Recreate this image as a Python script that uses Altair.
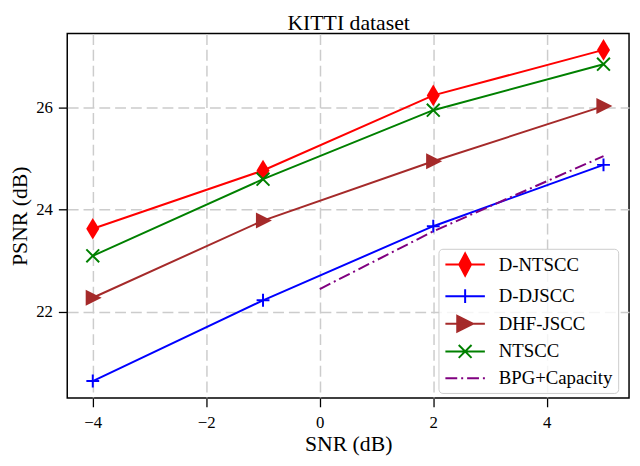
import altair as alt
import pandas as pd

# ---- data ----
snr = [-4, -1, 2, 5]
d_ntscc = [23.62, 24.76, 26.23, 27.12]
d_djscc = [20.64, 22.22, 23.67, 24.87]
dhf_jscc = [22.27, 23.78, 24.94, 26.02]
ntscc = [23.09, 24.59, 25.94, 26.84]
bpg_snr = [0, 2, 5]
bpg_capacity = [22.44, 23.57, 25.04]

series_names = ["D-NTSCC", "D-DJSCC", "DHF-JSCC", "NTSCC", "BPG+Capacity"]
series_colors = ["#ff0000", "#0000ff", "#a52a2a", "#008000", "#800080"]
x_ticks = [-4, -2, 0, 2, 4]
y_ticks = [22, 24, 26]
chart_title = "KITTI dataset"

FONT = "Liberation Serif"

# marker paths used in the plot (unit coordinates)
DIAMOND = "M0,-1L0.6,0L0,1L-0.6,0Z"
PLUS = "M-1,0L1,0M0,-1L0,1"
TRI_RIGHT = "M-0.8,-0.9L1,0L-0.8,0.9Z"
XMARK = "M-1,-1L1,1M-1,1L1,-1"

# legend symbols: line + marker (10 px per unit at symbolSize 400)
LEG_LINE = "M-0.9,0L3.1,0"
legend_paths = [
    LEG_LINE + "M1.1,-1.13L1.7,0L1.1,1.13L0.5,0Z",
    LEG_LINE + "M1.1,-0.7L1.1,0.7",
    LEG_LINE + "M0.3,-0.8L1.9,0L0.3,0.8Z",
    LEG_LINE + "M0.45,-0.65L1.75,0.65M0.45,0.65L1.75,-0.65",
    "M-0.9,0L0.3,0M0.7,0L0.9,0M1.3,0L2.5,0M2.9,0L3.1,0",
]

xscale = alt.Scale(domain=[-4.45, 5.45], nice=False, zero=False)
yscale = alt.Scale(domain=[20.31, 27.44], nice=False, zero=False)

x_axis = alt.Axis(
    values=x_ticks, format="d", title="SNR (dB)",
    titleFont=FONT, titleFontSize=22, titleFontWeight="normal", titleColor="black",
    titleY=53, titleBaseline="alphabetic",
    labelFont=FONT, labelFontSize=17, labelColor="black", labelPadding=8,
    tickSize=9, tickWidth=1.3, tickColor="black", domain=False,
    grid=True, gridDash=[11, 5], gridColor="#cccccc", gridWidth=1.5,
)
y_axis = alt.Axis(
    values=y_ticks, format="d", title="PSNR (dB)",
    titleFont=FONT, titleFontSize=22, titleFontWeight="normal", titleColor="black",
    titleX=-41, titleBaseline="alphabetic",
    labelFont=FONT, labelFontSize=17, labelColor="black", labelPadding=6,
    tickSize=9, tickWidth=1.3, tickColor="black", domain=False,
    grid=True, gridDash=[11, 5], gridColor="#cccccc", gridWidth=1.5,
)
# top axis used only to carry the chart title
title_axis = alt.Axis(
    orient="top", title=chart_title, labels=False, ticks=False, grid=False, domain=False,
    titleFont=FONT, titleFontSize=22, titleFontWeight="normal", titleColor="black",
    titleY=-4, titleBaseline="alphabetic",
)

main_series = [
    ("D-NTSCC", d_ntscc, DIAMOND, True, 484),
    ("D-DJSCC", d_djscc, PLUS, False, 169),
    ("DHF-JSCC", dhf_jscc, TRI_RIGHT, True, 324),
    ("NTSCC", ntscc, XMARK, False, 169),
]

layers = []
first = True
for (name, vals, shape, filled, size), color in zip(main_series, series_colors):
    df = pd.DataFrame({"snr": snr, "psnr": vals})
    base = alt.Chart(df)
    if first:
        xenc = alt.X("snr:Q", scale=xscale, axis=x_axis)
        yenc = alt.Y("psnr:Q", scale=yscale, axis=y_axis)
        first = False
    else:
        xenc = alt.X("snr:Q", scale=xscale, axis=None)
        yenc = alt.Y("psnr:Q", scale=yscale)
    line = base.mark_line(color=color, strokeWidth=2).encode(x=xenc, y=yenc)
    pts = base.mark_point(
        shape=shape, filled=filled, color=color, size=size, opacity=1,
        strokeWidth=2,
    ).encode(x=alt.X("snr:Q", axis=None), y="psnr:Q")
    layers += [line, pts]

bpg_df = pd.DataFrame({"snr": bpg_snr, "psnr": bpg_capacity})
layers.append(
    alt.Chart(bpg_df).mark_line(color=series_colors[4], strokeWidth=2, strokeDash=[12, 4, 2, 4])
    .encode(x=alt.X("snr:Q", axis=None), y="psnr:Q")
)

# legend-only layer (no visible rows); also carries the title axis
legend_df = pd.DataFrame({"series": series_names, "snr": [0] * 5, "psnr": [24] * 5})
leg = alt.Legend(
    title=None, orient="none", legendX=376, legendY=218,
    padding=5, rowPadding=5, symbolSize=400, symbolStrokeWidth=2, symbolOpacity=1,
    labelFont=FONT, labelFontSize=19, labelColor="black", labelOffset=34, labelLimit=0,
    fillColor="rgba(255,255,255,0.8)", strokeColor="#cccccc", cornerRadius=4,
)
legend_layer = (
    alt.Chart(legend_df)
    .transform_filter("false")
    .mark_point(filled=True, strokeWidth=2, opacity=1,
                stroke=alt.ExprRef(expr="scale('color', datum.value)"))
    .encode(
        x=alt.X("snr:Q", axis=title_axis), y="psnr:Q",
        color=alt.Color("series:N", scale=alt.Scale(domain=series_names, range=series_colors), legend=leg),
        shape=alt.Shape("series:N", scale=alt.Scale(domain=series_names, range=legend_paths), legend=leg),
    )
)
layers.append(legend_layer)

chart = (
    alt.layer(*layers)
    .resolve_axis(x="independent")
    .properties(
        width=569, height=369,
        background="white",
        autosize=alt.AutoSizeParams(type="none"),
        padding={"left": 60, "top": 23, "right": 3, "bottom": 58},
    )
    .configure_view(stroke="black", strokeWidth=1.5)
)

chart.save("out.html", embed_options={"renderer": "svg", "actions": False})
